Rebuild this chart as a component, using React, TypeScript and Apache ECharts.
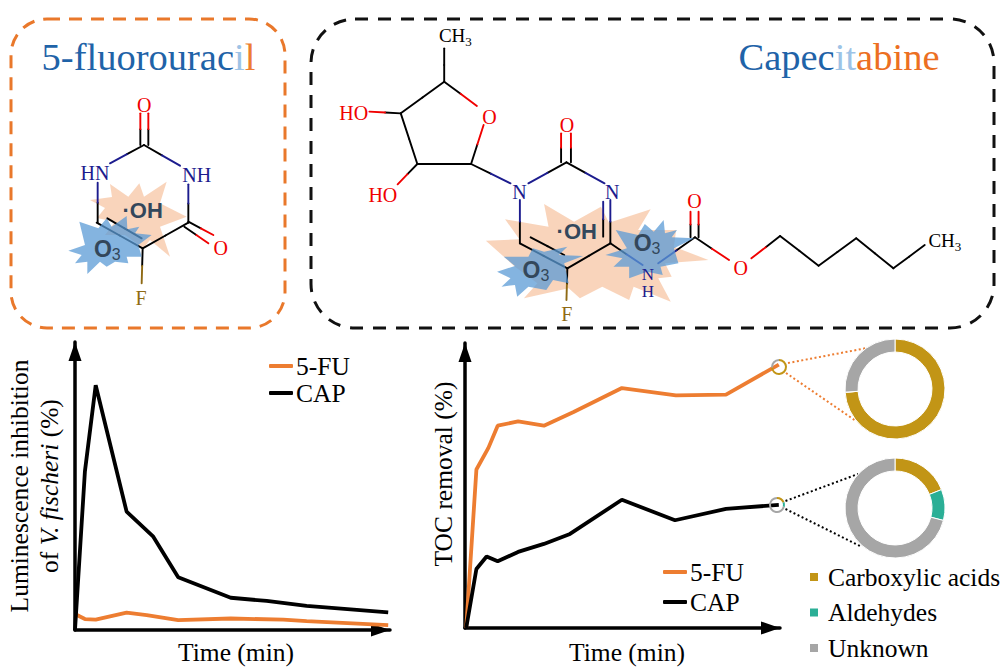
import React, { useEffect, useRef } from "react";
import * as echarts from "echarts";

// ---- data ----
const toxTime5FU = [0.3, 3.3, 6.9, 17.2, 23.9, 34.4, 51.9, 69.4, 77.2, 104.4];
const toxValues5FU = [5.4, 3.8, 3.6, 6, 5.2, 3.4, 4, 3.6, 3.1, 1.7];
const toxTimeCAP = [0, 3.3, 6.9, 17.2, 26.1, 34.4, 51.9, 63.9, 77.2, 104.4];
const toxValuesCAP = [0, 55, 85, 41.1, 32.4, 18.3, 11.2, 10.1, 8.4, 6.1];
const tocTime5FU = [0.4, 3.8, 7.8, 10.9, 17.7, 26.3, 36.2, 52.3, 70.3, 87, 104.6];
const tocValues5FU = [0, 55.6, 63.2, 71, 72.5, 71, 75.8, 84.2, 81.6, 81.9, 92.4];
const tocTimeCAP = [0.4, 3.8, 7.2, 10.9, 17.7, 26.3, 35, 52.3, 70, 87, 104.6];
const tocValuesCAP = [0, 20.7, 25.1, 23.4, 26.7, 29.5, 33, 45, 37.8, 41.8, 43.2];
const fractionNames = ["Carboxylic acids", "Aldehydes", "Unknown"];
const fractions5FU = [74, 0, 26];
const fractionsCAP = [19, 10, 71];

const ORANGE = "#ED7D31";
const BLUE = "#1F63A8";
const LIGHT = "#9DC3E6";
const NAVY = "#1C1C8E";
const RED = "#F00000";
const BROWN = "#8F6A14";
const GOLD = "#C29516";
const TEAL = "#2BAF96";
const GREY = "#A6A6A6";
const SERIF = "Liberation Serif";
const SANS = "Liberation Sans";

type P = [number, number];
type Map = (p: P) => P;
const mapFU: Map = ([x, y]) => [x / 3, y / 3];
const mapCAP: Map = ([x, y]) => [300 + x / 2.233, y / 3];

// bonds in crop coordinates: x1,y1,x2,y2,colour of first half,colour of second half
type Bond = [number, number, number, number, string, string];
const bondsFU: Bond[] = [
  [421, 435, 421, 340, "#000", RED],
  [445, 435, 445, 340, "#000", RED],
  [432, 435, 330, 490, "#000", NAVY],
  [432, 435, 540, 497, "#000", NAVY],
  [293, 668, 293, 548, "#000", NAVY],
  [565, 668, 565, 553, "#000", NAVY],
  [290, 668, 428, 745, "#000", "#000"],
  [322, 655, 425, 715, "#000", "#000"],
  [428, 745, 565, 668, "#000", "#000"],
  [565, 665, 640, 705, "#000", RED],
  [553, 680, 625, 730, "#000", RED],
  [428, 745, 425, 850, "#000", BROWN],
];
const bondsCAP: Bond[] = [
  [322, 245, 322, 145, "#000", "#000"],
  [322, 245, 395, 318, "#000", RED],
  [322, 245, 225, 340, "#000", "#000"],
  [225, 340, 155, 335, "#000", RED],
  [225, 340, 262, 492, "#000", "#000"],
  [262, 492, 382, 492, "#000", "#000"],
  [262, 492, 218, 553, "#000", RED],
  [382, 492, 410, 375, "#000", RED],
  [382, 492, 470, 550, "#000", NAVY],
  [595, 487, 510, 550, "#000", NAVY],
  [595, 487, 680, 550, "#000", NAVY],
  [583, 487, 583, 400, "#000", RED],
  [605, 487, 605, 400, "#000", RED],
  [491, 730, 491, 600, "#000", NAVY],
  [491, 730, 597, 805, "#000", "#000"],
  [515, 712, 590, 765, "#000", "#000"],
  [597, 805, 693, 730, "#000", "#000"],
  [693, 730, 693, 600, "#000", NAVY],
  [677, 710, 677, 605, "#000", NAVY],
  [693, 730, 765, 795, "#000", NAVY],
  [882, 712, 800, 790, "#000", NAVY],
  [872, 712, 872, 635, "#000", RED],
  [890, 712, 890, 635, "#000", RED],
  [882, 712, 958, 780, "#000", RED],
  [1072, 708, 1008, 775, "#000", RED],
  [1072, 708, 1158, 797, "#000", "#000"],
  [1158, 797, 1242, 715, "#000", "#000"],
  [1242, 715, 1325, 805, "#000", "#000"],
  [1325, 805, 1395, 735, "#000", "#000"],
  [597, 805, 595, 900, "#000", BROWN],
];

const starOrangeFU: P[] = [[270, 600], [336, 591], [330, 552], [385, 590], [418, 550], [432, 590], [500, 545], [480, 610], [560, 650], [480, 680], [510, 770], [450, 720], [430, 745], [375, 705], [315, 705], [345, 665], [291, 654], [315, 624]];
const starBlueFU: P[] = [[205, 752], [255, 735], [238, 665], [295, 685], [320, 655], [335, 680], [380, 648], [382, 688], [418, 680], [405, 700], [455, 705], [415, 735], [425, 770], [380, 770], [385, 790], [345, 785], [320, 800], [300, 785], [262, 822], [262, 785], [225, 790], [245, 765]];
const starOrangeCAP: P[] = [[415, 722], [490, 718], [458, 658], [555, 680], [545, 612], [612, 665], [672, 620], [690, 668], [783, 628], [755, 690], [840, 690], [835, 740], [912, 780], [815, 790], [830, 830], [800, 835], [828, 905], [745, 860], [735, 900], [675, 860], [625, 895], [600, 865], [500, 895], [530, 850], [480, 800]];
const starBlueCAP1: P[] = [[440, 815], [480, 798], [455, 770], [510, 770], [520, 745], [545, 755], [597, 740], [578, 765], [632, 768], [590, 790], [600, 850], [565, 840], [550, 870], [510, 860], [485, 890], [480, 855], [450, 860], [470, 835]];
const starBlueCAP2: P[] = [[682, 765], [730, 745], [705, 690], [755, 705], [770, 672], [790, 695], [812, 660], [815, 700], [842, 690], [830, 712], [880, 715], [835, 745], [845, 790], [805, 800], [810, 825], [775, 815], [735, 835], [735, 800], [700, 800], [720, 775]];

function bondEls(list: Bond[], map: Map, width = 1.7) {
  const out: any[] = [];
  list.forEach(([x1, y1, x2, y2, c1, c2]) => {
    const [a, b] = map([x1, y1]);
    const [c, d] = map([x2, y2]);
    const mx = (a + c) / 2;
    const my = (b + d) / 2;
    out.push({ type: "line", shape: { x1: a, y1: b, x2: mx, y2: my }, style: { stroke: c1, lineWidth: width, lineCap: "round" } });
    out.push({ type: "line", shape: { x1: mx, y1: my, x2: c, y2: d }, style: { stroke: c2, lineWidth: width, lineCap: "round" } });
  });
  return out;
}
function star(pts: P[], map: Map, fill: string, opacity: number) {
  return { type: "polygon", shape: { points: pts.map(map) }, style: { fill, opacity } };
}
function atom(text: string, p: P, map: Map, fill: string, size = 20) {
  const [x, y] = map(p);
  return { type: "text", x, y, style: { text, fill, font: `${size}px "${SERIF}"`, textAlign: "center", textVerticalAlign: "middle" } };
}
function ch3(p: P, map: Map) {
  const [x, y] = map(p);
  return {
    type: "text", x, y,
    style: {
      text: "{a|CH}{b|3}", textAlign: "center", textVerticalAlign: "middle",
      rich: {
        a: { fontFamily: SERIF, fontSize: 19, fill: "#000", lineHeight: 22, verticalAlign: "top" },
        b: { fontFamily: SERIF, fontSize: 13, fill: "#000", lineHeight: 22, verticalAlign: "bottom", padding: [6, 0, 0, 0] },
      },
    },
  };
}
function ozone(p: P, map: Map) {
  const [x, y] = map(p);
  return {
    type: "text", x, y,
    style: {
      text: "{a|O}{b|3}", textAlign: "center", textVerticalAlign: "middle",
      rich: {
        a: { fontFamily: SANS, fontWeight: "bold", fontSize: 23, fill: "#33475B", lineHeight: 26 },
        b: { fontFamily: SANS, fontSize: 16, fill: "#33475B", lineHeight: 26, verticalAlign: "bottom", padding: [8, 0, 0, 0] },
      },
    },
  };
}
function oh(p: P, map: Map) {
  const [x, y] = map(p);
  return { type: "text", x, y, style: { text: "·OH", fill: "#33475B", font: `bold 22px "${SANS}"`, textAlign: "center", textVerticalAlign: "middle" } };
}
function dots(a: P, b: P, stroke: string) {
  return { type: "line", shape: { x1: a[0], y1: a[1], x2: b[0], y2: b[1] }, style: { stroke, lineWidth: 2, lineDash: [2, 2.5] } };
}
const titleRich = (fill: string) => ({ fontFamily: SERIF, fontSize: 38.5, fill });

const graphicEls: any[] = [
  { type: "rect", shape: { x: 11, y: 19, width: 274, height: 309, r: 36 }, style: { fill: "transparent", stroke: "#E9782B", lineWidth: 3, lineDash: [13, 9] } },
  { type: "rect", shape: { x: 311, y: 19, width: 683, height: 309, r: 44 }, style: { fill: "transparent", stroke: "#111", lineWidth: 3, lineDash: [13, 10] } },
  {
    type: "text", x: 148.5, y: 57,
    style: {
      text: "{b|5-fluorourac}{l|i}{o|l}", textAlign: "center", textVerticalAlign: "middle",
      rich: { b: titleRich(BLUE), l: titleRich(LIGHT), o: titleRich(ORANGE) },
    },
  },
  {
    type: "text", x: 839, y: 57,
    style: {
      text: "{b|Capec}{l|it}{o|abine}", textAlign: "center", textVerticalAlign: "middle",
      rich: { b: titleRich(BLUE), l: titleRich(LIGHT), o: titleRich("#EC6F22") },
    },
  },
  star(starOrangeFU, mapFU, "#F4B183", 0.55),
  star(starOrangeCAP, mapCAP, "#F4B183", 0.55),
  ...bondEls(bondsFU, mapFU, 1.9),
  ...bondEls(bondsCAP, mapCAP, 1.9),
  star(starBlueFU, mapFU, "#5B9BD5", 0.75),
  star(starBlueCAP1, mapCAP, "#5B9BD5", 0.75),
  star(starBlueCAP2, mapCAP, "#5B9BD5", 0.75),
  atom("O", [433, 315], mapFU, RED),
  atom("HN", [285, 518], mapFU, NAVY),
  atom("NH", [590, 524], mapFU, NAVY),
  atom("O", [662, 743], mapFU, RED),
  atom("F", [423, 895], mapFU, BROWN),
  oh([428, 630], mapFU),
  ozone([322, 748], mapFU),
  ch3([347, 112], mapCAP),
  atom("HO", [120, 340], mapCAP, RED),
  atom("O", [423, 350], mapCAP, RED),
  atom("HO", [185, 585], mapCAP, RED),
  atom("O", [596, 375], mapCAP, RED),
  atom("N", [490, 575], mapCAP, NAVY),
  atom("N", [697, 577], mapCAP, NAVY),
  atom("O", [881, 603], mapCAP, RED),
  atom("O", [984, 805], mapCAP, RED),
  atom("N", [777, 822], mapCAP, NAVY, 17),
  atom("H", [777, 874], mapCAP, NAVY, 17),
  atom("F", [596, 942], mapCAP, BROWN),
  ch3([1440, 725], mapCAP),
  oh([618, 694], mapCAP),
  ozone([527, 810], mapCAP),
  ozone([775, 730], mapCAP),
  dots([788, 363], [867, 348], ORANGE),
  dots([786, 373], [856, 421], ORANGE),
  dots([785.5, 501], [858, 474], "#000"),
  dots([785.5, 509], [860, 546], "#000"),
];

const arrowAxis = (extra: any) => ({
  type: "value",
  min: 0,
  max: 100,
  splitLine: { show: false },
  axisTick: { show: false },
  axisLabel: { show: false },
  axisLine: { show: true, onZero: false, symbol: ["none", "triangle"], symbolSize: [13, 19], symbolOffset: [0, -9.5], lineStyle: { color: "#000", width: 3.5 } },
  ...extra,
});
const nameStyle = { fontFamily: SERIF, fontSize: 25.5, color: "#000" };

function lineSeries(name: string, color: string, xs: number[], ys: number[], idx: number) {
  return {
    type: "line", name, xAxisIndex: idx, yAxisIndex: idx, data: xs.map((x, i) => [x, ys[i]]),
    showSymbol: false, symbol: "none", clip: false, silent: true, z: 3,
    lineStyle: { color, width: 3.8 }, itemStyle: { color },
  };
}
function donut(center: [number, number], radius: [number, number], values: number[], border: number) {
  return {
    type: "pie", center, radius, startAngle: 90, silent: true, z: 4,
    label: { show: false }, labelLine: { show: false }, emphasis: { disabled: true },
    itemStyle: { borderColor: "#fff", borderWidth: border },
    color: [GOLD, TEAL, GREY],
    data: fractionNames.map((name, i) => ({ name, value: values[i] })),
  };
}
const lineLegend = (left: number, top: number, gap: number) => ({
  left, top, padding: 0, orient: "vertical", icon: "roundRect", itemWidth: 24, itemHeight: 4, itemGap: gap,
  selectedMode: false, data: ["5-FU", "CAP"],
  textStyle: { ...nameStyle, padding: [0, 0, 0, -2] },
});

const option: any = {
  animation: false,
  backgroundColor: "#fff",
  grid: [
    { left: 75, top: 342, width: 315, height: 288, outerBoundsMode: "none" },
    { left: 465, top: 343, width: 315, height: 285, outerBoundsMode: "none" },
  ],
  xAxis: [
    arrowAxis({ gridIndex: 0, max: 105, name: "Time (min)", nameLocation: "middle", nameGap: 9, nameTextStyle: { ...nameStyle, padding: [0, 0, 0, 7] } }),
    arrowAxis({ gridIndex: 1, max: 105, name: "Time (min)", nameLocation: "middle", nameGap: 11, nameTextStyle: { ...nameStyle, padding: [0, 0, 0, 9] } }),
  ],
  yAxis: [
    arrowAxis({
      gridIndex: 0, name: "{n|Luminescence inhibition}\n{n|of }{i|V. fischeri}{n| (%)}", nameLocation: "middle", nameGap: 11, nameRotate: 90,
      nameTextStyle: { ...nameStyle, lineHeight: 30, rich: { n: { ...nameStyle, lineHeight: 30 }, i: { ...nameStyle, fontStyle: "italic", lineHeight: 30 } } },
    }),
    arrowAxis({ gridIndex: 1, name: "TOC removal (%)", nameLocation: "middle", nameGap: 9, nameRotate: 90, nameTextStyle: { ...nameStyle, padding: [0, 0, 0, 23] } }),
  ],
  legend: [
    lineLegend(269, 353, 1),
    lineLegend(663, 559, 4),
    {
      left: 808, top: 564, padding: 0, orient: "vertical", icon: "rect", itemWidth: 10, itemHeight: 10, itemGap: 9.5, selectedMode: false,
      data: fractionNames, textStyle: { ...nameStyle, padding: [0, 0, 0, 4] },
    },
  ],
  series: [
    lineSeries("5-FU", ORANGE, toxTime5FU, toxValues5FU, 0),
    lineSeries("CAP", "#000", toxTimeCAP, toxValuesCAP, 0),
    lineSeries("5-FU", ORANGE, tocTime5FU, tocValues5FU, 1),
    lineSeries("CAP", "#000", tocTimeCAP, tocValuesCAP, 1),
    donut([895, 389], [37, 50], fractions5FU, 1),
    donut([895, 508], [37, 50], fractionsCAP, 1),
    donut([779, 367], [6, 8], fractions5FU, 0),
    donut([777, 505], [6, 8], fractionsCAP, 0),
  ],
  graphic: { elements: graphicEls },
};

export default function App() {
  const ref = useRef<HTMLDivElement>(null);
  useEffect(() => {
    const chart = echarts.init(ref.current!, undefined, { renderer: "svg" });
    chart.setOption(option);
    return () => chart.dispose();
  }, []);
  return <div ref={ref} style={{ position: "absolute", left: 0, top: 0, width: 1000, height: 669 }} />;
}
